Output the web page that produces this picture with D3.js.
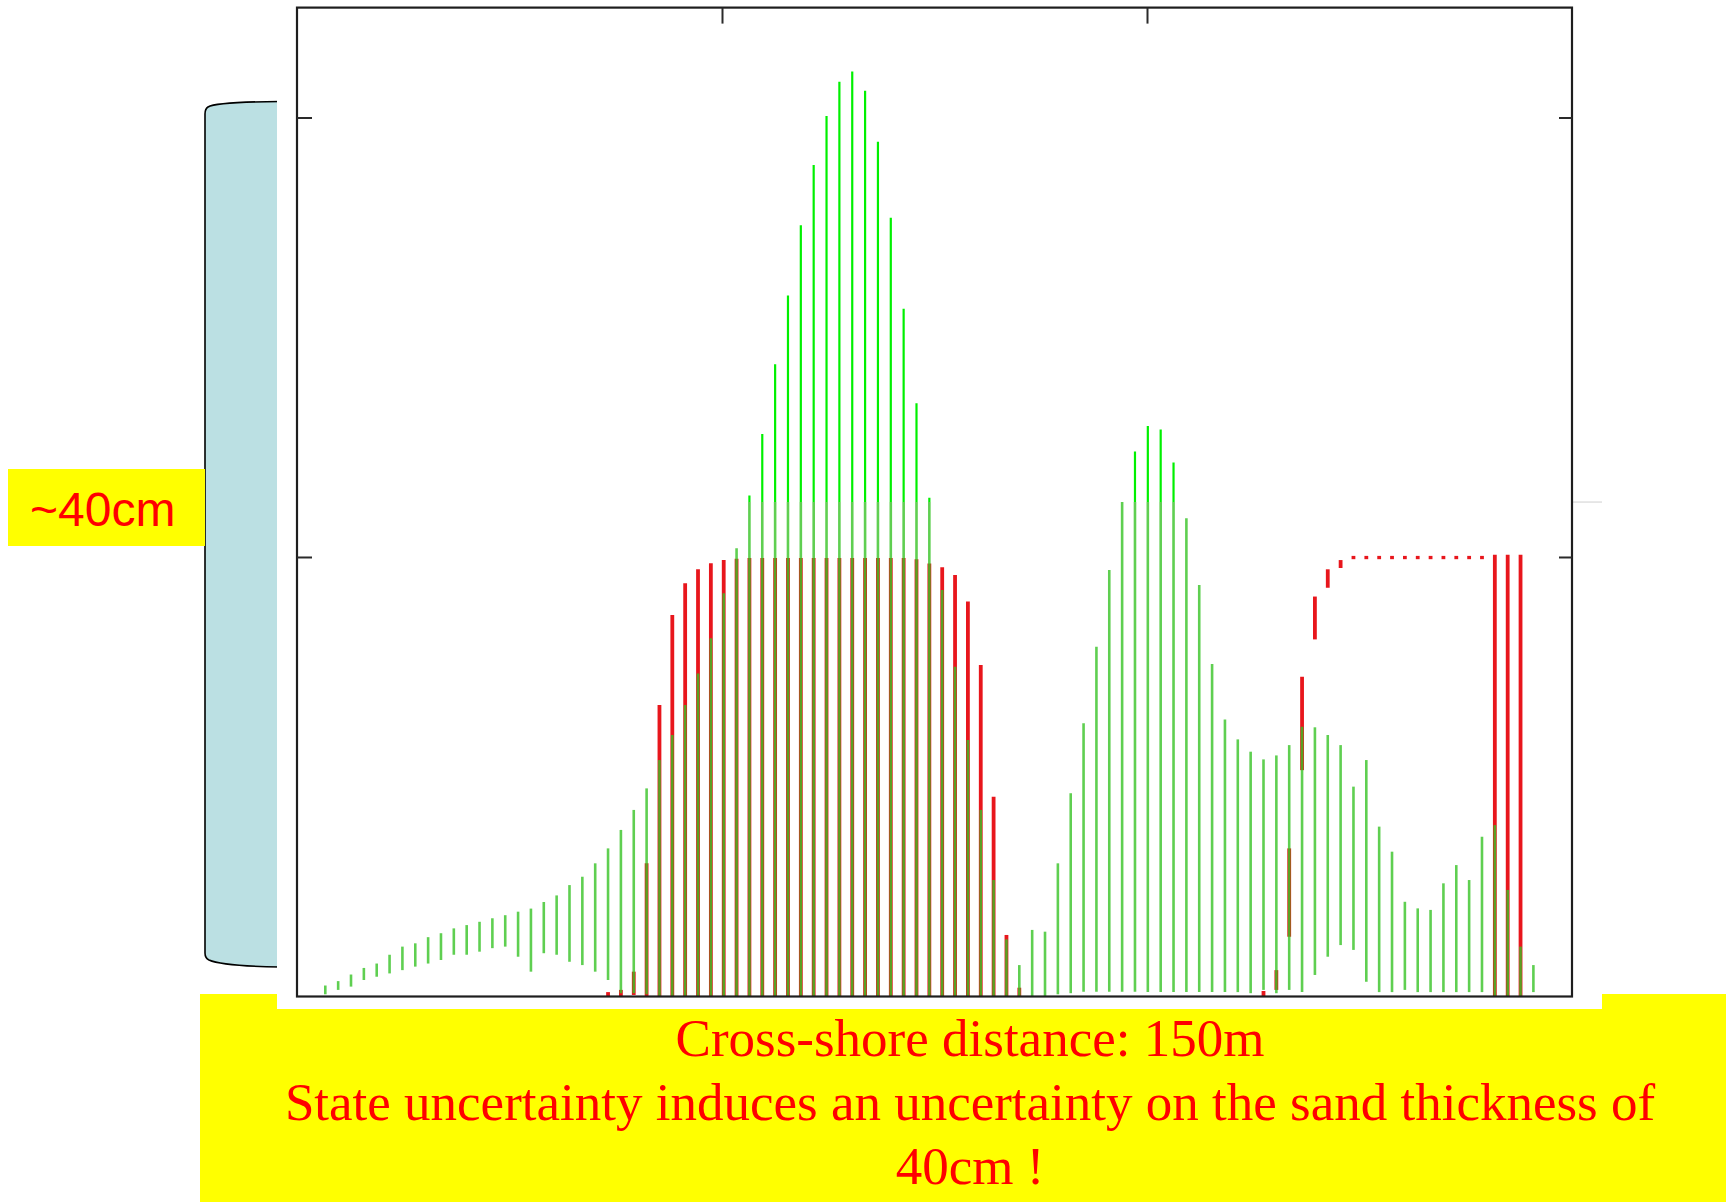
<!DOCTYPE html>
<html>
<head>
<meta charset="utf-8">
<script src="https://cdn.jsdelivr.net/npm/d3@7"></script>
<style>
  body { margin: 0; background: #fff; }
</style>
</head>
<body>
<script>
// Sand thickness spread along the cross-shore profile (cm).
// Green = ensemble range, red = state-uncertainty range (null: no bar).
const xStart = 3.33, xStep = 1.512;   // cross-shore grid, m
const greenLo = [
  0.1, 0.3, 0.45, 0.75, 0.9, 1.05, 1.2, 1.36, 1.5, 1.66,
  1.9, 1.9, 2.04, 2.2, 2.27, 1.81, 1.13, 1.97, 1.9, 1.58,
  1.43, 1.13, 0.75, 0.15, 0.15, 0.1, 0, 0, 0, 0,
  0, 0, 0, 0, 0, 0, 0, 0, 0, 0,
  0, 0, 0, 0, 0, 0, 0, 0, 0, 0,
  0, 0, 0, 0, 0, 0, 0, 0.1, 0.15, 0.22,
  0.22, 0.22, 0.22, 0.22, 0.2, 0.2, 0.2, 0.2, 0.2, 0.2,
  0.2, 0.2, 0.15, 0.3, 0.15, 0.3, 0.2, 0.98, 1.81, 2.34,
  2.12, 0.67, 0.2, 0.2, 0.3, 0.2, 0.2, 0.2, 0.2, 0.2,
  0.2, 0, 0, 0, 0.2
];
const greenHi = [
  0.5, 0.7, 1.0, 1.3, 1.5, 1.9, 2.27, 2.42, 2.7, 2.88,
  3.1, 3.25, 3.4, 3.56, 3.7, 3.86, 4.0, 4.3, 4.6, 5.07,
  5.45, 6.06, 6.74, 7.58, 8.49, 9.47, 10.76, 11.9, 13.27, 14.7,
  16.3, 18.35, 20.4, 22.8, 25.6, 28.77, 31.9, 35.1, 37.84, 40.07,
  41.63, 42.09, 41.22, 38.9, 35.44, 31.3, 27.0, 22.7, 18.5, 15.0,
  11.67, 8.49, 5.3, 2.6, 1.43, 3.03, 2.95, 6.06, 9.25, 12.43,
  15.92, 19.41, 22.5, 24.8, 25.96, 25.8, 24.3, 21.76, 18.73, 15.13,
  12.61, 11.7, 11.14, 10.79, 10.97, 11.44, 12.28, 12.25, 11.9, 11.44,
  9.55, 10.76, 7.73, 6.59, 4.31, 4.01, 3.94, 5.15, 5.98, 5.3,
  7.27, 7.8, 4.85, 2.27, 1.43
];
const redLo = [
  null, null, null, null, null, null, null, null, null, null,
  null, null, null, null, null, null, null, null, null, null,
  null, null, 0, 0, 0.07, 0, 0, 0, 0, 0,
  0, 0, 0, 0, 0, 0, 0, 0, 0, 0,
  0, 0, 0, 0, 0, 0, 0, 0, 0, 0,
  0, 0, 0, 0, 0, null, null, null, null, null,
  null, null, null, null, null, null, null, null, null, null,
  null, null, null, 0, 0.3, 2.72, 10.3, 16.25, 18.6, 19.5,
  19.9, 19.9, 19.9, 19.9, 19.9, 19.9, 19.9, 19.9, 19.9, 19.9,
  19.9, 0, 0, 0, null
];
const redHi = [
  null, null, null, null, null, null, null, null, null, null,
  null, null, null, null, null, null, null, null, null, null,
  null, null, 0.2, 0.3, 1.13, 6.06, 13.27, 17.36, 18.8, 19.44,
  19.71, 19.86, 19.92, 19.95, 19.95, 19.95, 19.95, 19.95, 19.95, 19.95,
  19.95, 19.95, 19.95, 19.95, 19.95, 19.95, 19.9, 19.7, 19.53, 19.18,
  17.97, 15.08, 9.09, 2.8, 0.4, null, null, null, null, null,
  null, null, null, null, null, null, null, null, null, null,
  null, null, null, 0.25, 1.2, 6.74, 14.55, 18.2, 19.44, 19.86,
  20.05, 20.05, 20.05, 20.05, 20.05, 20.05, 20.05, 20.05, 20.05, 20.05,
  20.05, 20.1, 20.1, 20.1, null
];
const xTicks = [50, 100];
const yTicks = [20, 40];
const seamCm = 22.5;   // the lower half of the figure is a fainter render

const W = 1726, H = 1202;
const svg = d3.select("body").append("svg")
  .attr("width", W).attr("height", H)
  .attr("viewBox", [0, 0, W, H]);

// Yellow caption box (behind the pasted plot)
svg.append("rect").attr("x", 200).attr("y", 994).attr("width", 1526).attr("height", 208)
  .attr("fill", "#ffff00");

// Pale blue bracket shape
svg.append("path")
  .attr("d", "M 280 101.5 Q 216 102 208 107 Q 205 109 205 114 L 205 953 Q 205 958 209 960 Q 222 966 280 967")
  .attr("fill", "#bbe0e3").attr("stroke", "#000").attr("stroke-width", 1.6);

// "~40cm" label
svg.append("rect").attr("x", 8).attr("y", 469).attr("width", 197).attr("height", 77)
  .attr("fill", "#ffff00");
svg.append("text").attr("x", 30).attr("y", 526)
  .attr("font-family", "'Liberation Sans', Arial, sans-serif").attr("font-size", 48)
  .attr("fill", "#ff0000").text("~40cm");

// White background of the plot picture
svg.append("rect").attr("x", 277).attr("y", 0).attr("width", 1325).attr("height", 1009)
  .attr("fill", "#fff");

const x = d3.scaleLinear().domain([0, 150]).range([297, 1572]);
const y = d3.scaleLinear().domain([0, 45]).range([996.5, 7.6]);

const bars = greenLo.map((lo, k) => ({
  x: xStart + k * xStep, gLo: lo, gHi: greenHi[k], rLo: redLo[k], rHi: redHi[k]
}));

const defs = svg.append("defs");
defs.append("clipPath").attr("id", "clipTop").append("rect")
  .attr("x", 277).attr("y", 0).attr("width", 1325).attr("height", y(seamCm));
defs.append("clipPath").attr("id", "clipBot").append("rect")
  .attr("x", 277).attr("y", y(seamCm)).attr("width", 1325).attr("height", 1009 - y(seamCm));

// Red bars
svg.append("g").attr("clip-path", "url(#clipBot)")
  .selectAll("line").data(bars.filter(d => d.rLo !== null)).join("line")
  .attr("x1", d => x(d.x)).attr("x2", d => x(d.x))
  .attr("y1", d => y(d.rLo)).attr("y2", d => y(d.rHi))
  .attr("stroke", "#e8161c").attr("stroke-width", 3.8);

// Green bars, lower (faded) part
svg.append("g").attr("clip-path", "url(#clipBot)")
  .selectAll("line").data(bars).join("line")
  .attr("x1", d => x(d.x)).attr("x2", d => x(d.x))
  .attr("y1", d => y(d.gLo)).attr("y2", d => y(d.gHi))
  .attr("stroke", "rgb(55,195,38)").attr("stroke-opacity", 0.8).attr("stroke-width", 2.6);

// Green bars, upper (bright) part
svg.append("g").attr("clip-path", "url(#clipTop)")
  .selectAll("line").data(bars).join("line")
  .attr("x1", d => x(d.x)).attr("x2", d => x(d.x))
  .attr("y1", d => y(d.gLo)).attr("y2", d => y(d.gHi))
  .attr("stroke", "#00f000").attr("stroke-width", 2.2);

// faint seam between the two halves
svg.append("line").attr("x1", 1572).attr("x2", 1602)
  .attr("y1", y(seamCm)).attr("y2", y(seamCm))
  .attr("stroke", "#cfcfcf").attr("stroke-width", 1);

// Frame
svg.append("rect")
  .attr("x", x(0)).attr("y", y(45))
  .attr("width", x(150) - x(0)).attr("height", y(0) - y(45))
  .attr("fill", "none").attr("stroke", "#1e1e1e").attr("stroke-width", 2.2);

// Ticks (labels hidden under the overlays)
const tickStyle = g => {
  g.select(".domain").remove();
  g.selectAll(".tick line").attr("stroke", "#2a2a2a").attr("stroke-width", 2);
  g.selectAll(".tick text").remove();
};
svg.append("g").attr("transform", `translate(0,${y(45)})`)
  .call(d3.axisTop(x).tickValues(xTicks).tickSize(-16)).call(tickStyle);
svg.append("g").attr("transform", `translate(${x(0)},0)`)
  .call(d3.axisLeft(y).tickValues(yTicks).tickSize(-15)).call(tickStyle);
svg.append("g").attr("transform", `translate(${x(150)},0)`)
  .call(d3.axisRight(y).tickValues(yTicks).tickSize(-13)).call(tickStyle);

// Caption
const caption = [
  "Cross-shore distance: 150m",
  "State uncertainty induces an uncertainty on the sand thickness of",
  "40cm !"
];
svg.append("g")
  .attr("font-family", "'Liberation Serif', 'Times New Roman', serif")
  .attr("font-size", 53).attr("fill", "#ff0000").attr("text-anchor", "middle")
  .selectAll("text").data(caption).join("text")
  .attr("x", 970).attr("y", (d, i) => 1056 + i * 64)
  .text(d => d);
</script>
</body>
</html>
